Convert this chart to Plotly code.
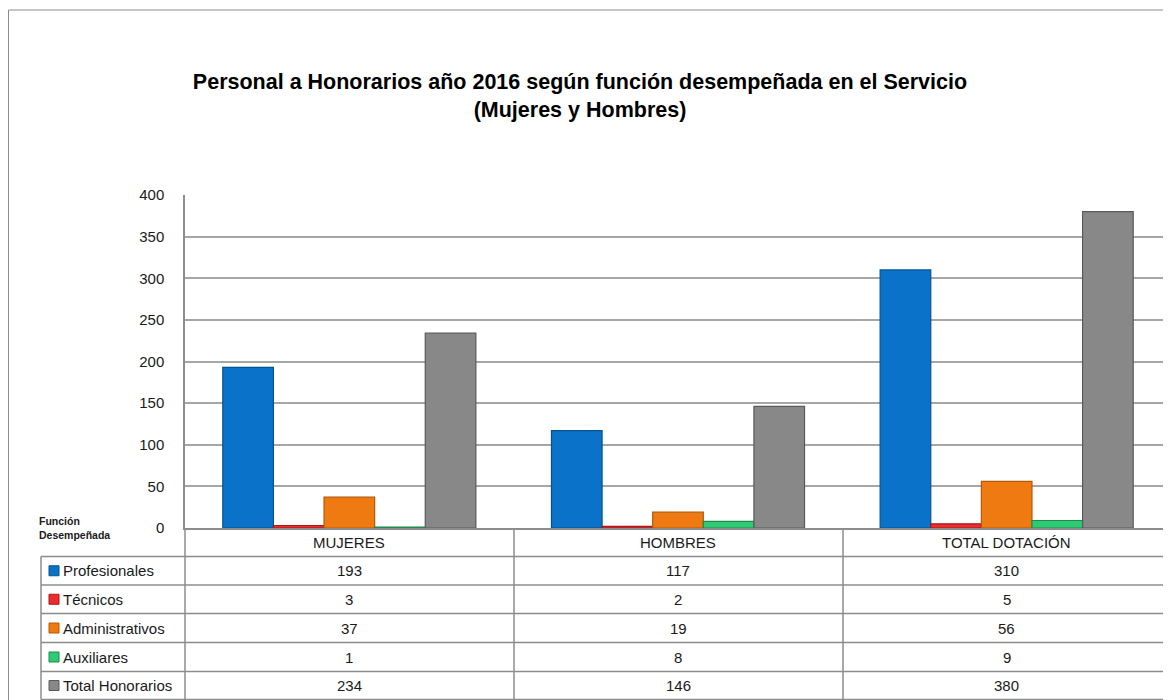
import plotly.graph_objects as go

# Datos del gráfico
categorias = ["MUJERES", "HOMBRES", "TOTAL DOTACIÓN"]
funciones = ["Profesionales", "Técnicos", "Administrativos", "Auxiliares", "Total Honorarios"]
profesionales = [193, 117, 310]
tecnicos = [3, 2, 5]
administrativos = [37, 19, 56]
auxiliares = [1, 8, 9]
total_honorarios = [234, 146, 380]
y_ticks = [0, 50, 100, 150, 200, 250, 300, 350, 400]

series = [profesionales, tecnicos, administrativos, auxiliares, total_honorarios]
colores = ["#0A72C8", "#EE2C2C", "#F07A12", "#2FCB74", "#888888"]
bordes = ["#03548F", "#A81A1A", "#B35808", "#1E8A4E", "#5A5A5A"]

FONT = "Liberation Sans, Arial, sans-serif"
OFF = 8  # margen del body en la página
W, H = 1171 - OFF, 700 - OFF
LEFT, RIGHT, TOP, BOTTOM = 185, 1171, 195, 528
GRID = "#A6A6A6"
LINEA = "#8C8C8C"


def px_x(p):
    # pixel de pantalla -> coordenada paper
    return (p - LEFT) / (RIGHT - LEFT)


def px_y(p):
    return (BOTTOM - p) / (BOTTOM - TOP)


fig = go.Figure()

for nombre, valores, color, borde in zip(funciones, series, colores, bordes):
    fig.add_trace(go.Bar(
        x=categorias,
        y=valores,
        name=nombre,
        marker=dict(color=color, line=dict(color=borde, width=1.2)),
        showlegend=False,
    ))

shapes = []
annotations = []

# Marco exterior
shapes.append(dict(type="rect", xref="paper", yref="paper",
                   x0=px_x(OFF + 0.5), x1=px_x(1200), y0=px_y(10), y1=px_y(720),
                   line=dict(color="#8C8C8C", width=1), layer="below"))

# Tabla de datos
filas_y = [556.5, 585, 613.5, 642.5, 671.5, 699.5]
col_x = [41, 185, 514, 843]
for yy in filas_y:
    shapes.append(dict(type="line", xref="paper", yref="paper",
                       x0=px_x(41), x1=px_x(1200), y0=px_y(yy), y1=px_y(yy),
                       line=dict(color=LINEA, width=1.5)))
shapes.append(dict(type="line", xref="paper", yref="paper",
                   x0=px_x(41), x1=px_x(41), y0=px_y(556.5), y1=px_y(699.5),
                   line=dict(color=LINEA, width=1.5)))
for cx in col_x[1:]:
    shapes.append(dict(type="line", xref="paper", yref="paper",
                       x0=px_x(cx), x1=px_x(cx), y0=px_y(528), y1=px_y(699.5),
                       line=dict(color=LINEA, width=1.5)))

TXT = dict(family=FONT, size=15, color="#1a1a1a")

# Encabezados de columna
for cat in categorias:
    annotations.append(dict(x=cat, xref="x", y=px_y(542.5), yref="paper",
                            text=cat, showarrow=False, xanchor="center", yanchor="middle",
                            font=TXT))

# Filas con clave de color, nombre y valores
for i, (nombre, valores, color, borde) in enumerate(zip(funciones, series, colores, bordes)):
    yc = (filas_y[i] + filas_y[i + 1]) / 2
    shapes.append(dict(type="rect", xref="paper", yref="paper",
                       x0=px_x(49), x1=px_x(59), y0=px_y(yc - 5), y1=px_y(yc + 5),
                       fillcolor=color, line=dict(color=borde, width=1)))
    annotations.append(dict(x=px_x(61), xref="paper", y=px_y(yc), yref="paper",
                            text=nombre, showarrow=False, xanchor="left", yanchor="middle",
                            font=TXT))
    for cat, v in zip(categorias, valores):
        annotations.append(dict(x=cat, xref="x", y=px_y(yc), yref="paper",
                                text=str(v), showarrow=False,
                                xanchor="center", yanchor="middle", font=TXT))

annotations.append(dict(x=px_x(37), xref="paper", y=px_y(528), yref="paper",
                        text="<b>Función<br>Desempeñada</b>", showarrow=False,
                        xanchor="left", yanchor="middle", align="left",
                        font=dict(family=FONT, size=10.5, color="#1a1a1a")))

fig.update_layout(
    width=W, height=H,
    margin=dict(l=LEFT - OFF, r=0, t=TOP - OFF, b=H - (BOTTOM - OFF), pad=0),
    paper_bgcolor="white", plot_bgcolor="white",
    title=dict(
        text="<b>Personal a Honorarios año 2016 según función desempeñada en el Servicio<br>(Mujeres y Hombres)</b>",
        x=(580 - OFF) / W, xanchor="center",
        y=1 - (89 - OFF) / H, yanchor="middle",
        font=dict(family=FONT, size=21.5, color="#000000"),
    ),
    barmode="group", bargap=0.23, bargroupgap=0,
    xaxis=dict(showticklabels=False, showline=True, linecolor=LINEA, linewidth=1.5,
               showgrid=False, ticks=""),
    yaxis=dict(range=[0, 400], tickvals=y_ticks, showgrid=True, gridcolor=GRID, gridwidth=1.5,
               showline=True, linecolor=LINEA, linewidth=1.5, zeroline=False,
               ticks="outside", ticklen=16, tickcolor="rgba(0,0,0,0)",
               tickfont=dict(family=FONT, size=15, color="#1a1a1a")),
    shapes=shapes,
    annotations=annotations,
)

fig.write_html("out.html")
